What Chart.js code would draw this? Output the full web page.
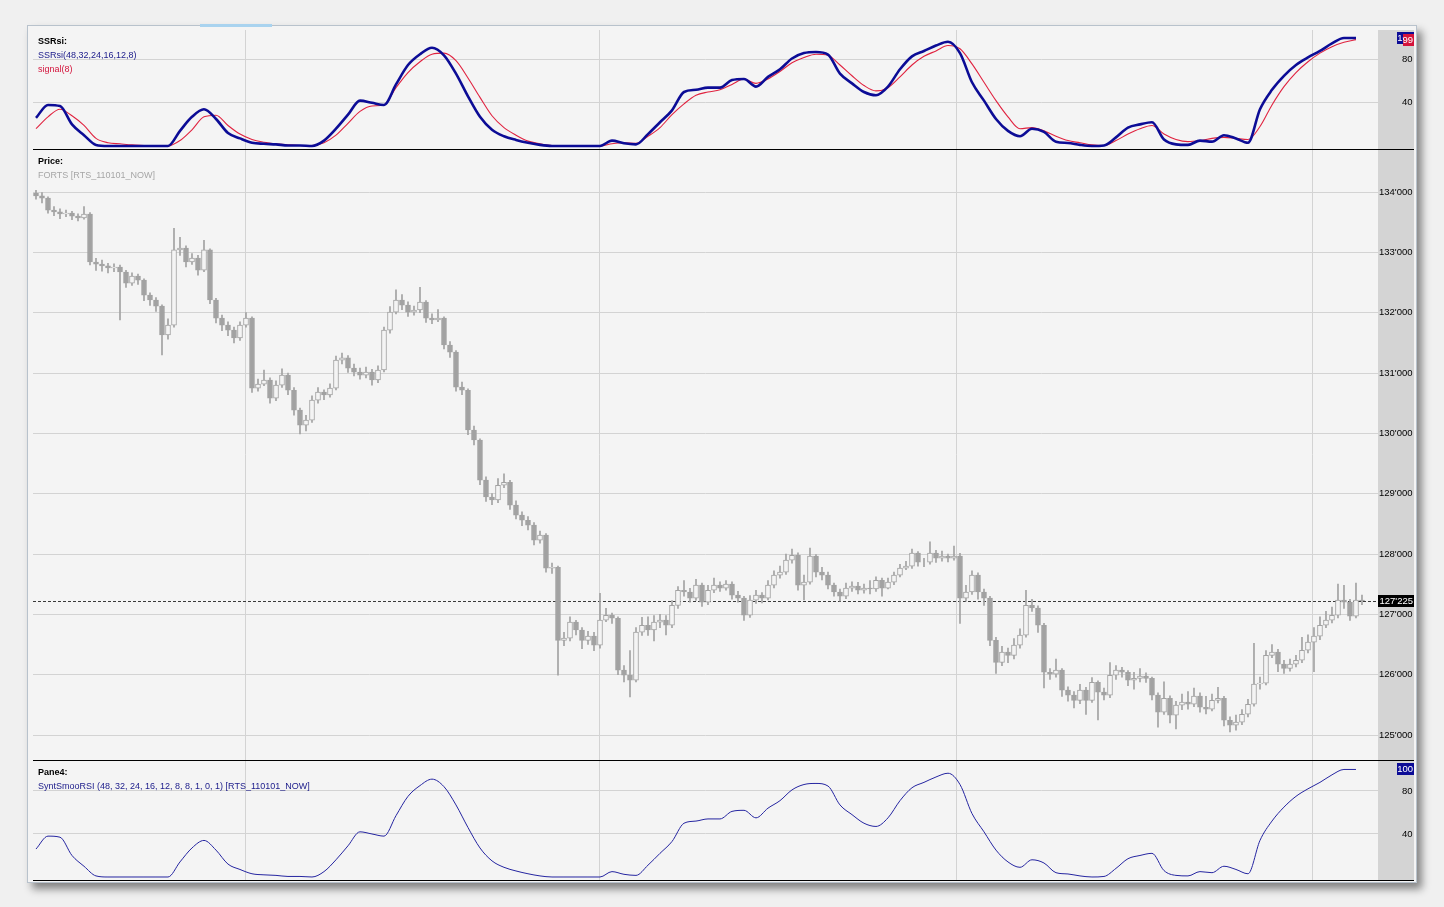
<!DOCTYPE html>
<html>
<head>
<meta charset="utf-8">
<script src="https://cdn.jsdelivr.net/npm/chart.js@4.4.0/dist/chart.umd.min.js"></script>
<style>
  html, body { margin: 0; padding: 0; width: 1444px; height: 907px; overflow: hidden; background: #f0f0f0; font-family: "Liberation Sans", Arial, sans-serif; }
  #win { position: absolute; left: 27px; top: 25px; width: 1388px; height: 856px; background: #f4f4f4; border: 1px solid #b8c2cc; box-shadow: 5px 6px 8px rgba(0,0,0,0.45); }
  #tab { position: absolute; left: 200px; top: 24px; width: 72px; height: 3px; background: #a9d3ef; }
  #band { position: absolute; left: 1378px; top: 30px; width: 36px; height: 850px; background: #d4d4d4; }
  canvas { position: absolute; z-index: 2; }
  .sep { position: absolute; left: 33px; width: 1381px; height: 1px; background: #000; z-index: 3; }
  .lbl { position: absolute; left: 38px; font-size: 9px; line-height: 11px; white-space: nowrap; z-index: 3; }
</style>
</head>
<body>
<div id="win"></div>
<div id="tab"></div>
<div id="band"></div>

<canvas id="cTop" width="1381" height="119" style="left:33px;top:30px;width:1381px;height:119px"></canvas>
<canvas id="cPrice" width="1381" height="611" style="left:33px;top:149px;width:1381px;height:611px"></canvas>
<canvas id="cLow" width="1381" height="120" style="left:33px;top:760px;width:1381px;height:120px"></canvas>

<div class="sep" style="top:149px"></div>
<div class="sep" style="top:760px"></div>
<div class="sep" style="top:880px"></div>

<div class="lbl" style="top:36px;font-weight:bold;color:#000">SSRsi:</div>
<div class="lbl" style="top:50px;color:#1a1a8a">SSRsi(48,32,24,16,12,8)</div>
<div class="lbl" style="top:64px;color:#d4143c">signal(8)</div>
<div class="lbl" style="top:156px;font-weight:bold;color:#000">Price:</div>
<div class="lbl" style="top:170px;color:#a6a6a6">FORTS [RTS_110101_NOW]</div>
<div class="lbl" style="top:767px;font-weight:bold;color:#000">Pane4:</div>
<div class="lbl" style="top:781px;color:#1a1a8a">SyntSmooRSI (48, 32, 24, 16, 12, 8, 8, 1, 0, 1) [RTS_110101_NOW]</div>

<script>
  'use strict';

  // candles, one per bar index
  var opens = [133980,133935,133900,133700,133670,133635,133650,133600,133570,133635,
    132840,132805,132775,132740,132755,132675,132490,132605,132540,132290,
    132210,132110,131630,131795,133040,133070,132840,132905,132705,133040,
    132210,131910,131795,131710,131580,131795,131910,130750,130815,130885,
    130585,130800,130965,130715,130385,130135,130220,130550,130685,130635,
    130750,131215,131250,131080,131015,130965,131015,130885,131050,131710,
    132010,132210,132125,132010,132045,132175,131910,131880,131910,131465,
    131345,130765,130715,130055,129890,129225,128945,128895,129140,129190,
    128810,128645,128560,128480,128230,128315,127765,127780,126570,126605,
    126870,126740,126570,126640,126490,126905,126985,126935,126075,125990,
    125910,126705,126820,126740,126870,126905,126820,127150,127400,127370,
    127270,127485,127200,127400,127485,127435,127500,127320,127270,126985,
    127235,127320,127270,127485,127650,127700,127900,127980,127485,127535,
    127965,127700,127650,127485,127370,127300,127435,127470,127400,127435,
    127420,127565,127435,127535,127650,127765,127800,128015,127865,127865,
    128015,127930,127965,127930,127965,127270,127370,127650,127370,127270,
    126570,126205,126375,126320,126490,126655,127150,127105,126820,126040,
    126010,126075,125745,125660,125575,125745,125575,125875,125710,125660,
    125990,126075,126040,125910,125940,125975,125940,125660,125380,125610,
    125330,125495,125545,125510,125645,125460,125430,125575,125610,125245,
    125165,125215,125345,125510,125845,125860,126320,126375,126175,126105,
    126175,126240,126405,126540,126640,126820,126905,126985,127235,127200,
    126970,127235];
  var highs = [134030,133990,133920,133760,133720,133700,133680,133640,133760,133660,
    132900,132870,132820,132810,132790,132700,132660,132640,132560,132330,
    132250,132130,131900,133400,133250,133110,132980,132950,133200,133060,
    132240,131960,131850,131760,131850,132000,131930,130900,131050,130920,
    130870,131070,131000,130760,130420,130300,130620,130760,130720,130820,
    131280,131330,131290,131150,131080,131100,131060,131120,131760,132100,
    132380,132300,132180,132110,132420,132200,131980,132050,131930,131520,
    131370,130850,130740,130120,129910,129280,129000,129250,129330,129220,
    128880,128700,128620,128520,128380,128340,127850,127800,126700,126960,
    126900,126780,126720,126700,127350,127100,127020,126960,126150,126400,
    126780,126950,126960,126980,127000,126980,127230,127460,127560,127430,
    127580,127520,127480,127600,127540,127560,127540,127380,127300,127310,
    127400,127360,127560,127720,127800,128000,128080,128020,127650,128100,
    127990,127780,127700,127520,127420,127520,127540,127530,127500,127560,
    127620,127600,127600,127700,127830,127880,128080,128040,127930,128200,
    128060,128050,128000,128130,128010,127480,127720,127690,127420,127300,
    126620,126470,126440,126600,126760,127400,127250,127140,126850,126100,
    126260,126100,125800,125720,125840,125790,125950,125900,125780,126200,
    126150,126120,126070,126040,126100,126030,125960,125700,125880,125650,
    125560,125680,125720,125780,125700,125640,125680,125790,125640,125300,
    125330,125420,125590,126520,125960,126400,126500,126420,126240,126260,
    126320,126620,126660,126780,126960,127050,127120,127500,127480,127250,
    127520,127320];
  var lows = [133880,133820,133650,133610,133560,133590,133540,133520,133550,132790,
    132700,132690,132660,132680,131880,132420,132450,132470,132200,132120,
    132020,131300,131560,131760,132950,132760,132800,132620,132680,132150,
    131830,131700,131620,131500,131540,131760,130680,130700,130790,130500,
    130540,130760,130640,130300,129990,130040,130180,130500,130560,130600,
    130720,131150,131010,130950,130900,130920,130800,130840,131020,131660,
    131980,132050,131940,131960,132000,131840,131820,131850,131400,131260,
    130700,130640,129980,129810,129150,128870,128820,128850,129100,128740,
    128580,128470,128400,128150,128180,127700,127680,125990,126480,126560,
    126660,126430,126500,126400,126440,126880,126850,126000,125880,125630,
    125880,126650,126650,126560,126780,126660,126780,127100,127300,127200,
    127230,127130,127160,127360,127380,127400,127250,127200,126900,126950,
    127180,127190,127240,127440,127600,127660,127850,127400,127240,127500,
    127620,127570,127420,127300,127220,127260,127380,127340,127350,127340,
    127380,127300,127420,127490,127620,127740,127760,127800,127790,127830,
    127860,127880,127870,127900,126850,127220,127330,127250,127150,126480,
    126020,126150,126200,126260,126440,126620,127050,126700,125780,125920,
    125960,125640,125560,125450,125520,125340,125540,125250,125580,125620,
    125920,125960,125820,125760,125880,125870,125580,125130,125340,125200,
    125100,125420,125430,125470,125380,125350,125400,125530,125150,125050,
    125080,125170,125300,125480,125760,125830,126280,126050,126020,126060,
    126130,126200,126360,126050,126580,126780,126860,126940,127100,126900,
    126940,127160];
  var closes = [133935,133900,133700,133670,133635,133650,133600,133570,133635,132840,
    132805,132775,132740,132755,132675,132490,132605,132540,132290,132210,
    132110,131630,131795,133040,133070,132840,132905,132705,133040,132210,
    131910,131795,131710,131580,131795,131910,130750,130815,130885,130585,
    130800,130965,130715,130385,130135,130220,130550,130685,130635,130750,
    131215,131250,131080,131015,130965,131015,130885,131050,131710,132010,
    132210,132125,132010,132045,132175,131910,131880,131910,131465,131345,
    130765,130715,130055,129890,129225,128945,128895,129140,129190,128810,
    128645,128560,128480,128230,128315,127765,127780,126570,126605,126870,
    126740,126570,126640,126490,126905,126985,126935,126075,125990,125910,
    126705,126820,126740,126870,126905,126820,127150,127400,127370,127270,
    127485,127200,127400,127485,127435,127500,127320,127270,126985,127235,
    127320,127270,127485,127650,127700,127900,127980,127485,127535,127965,
    127700,127650,127485,127370,127300,127435,127470,127400,127435,127420,
    127565,127435,127535,127650,127765,127800,128015,127865,127865,128015,
    127930,127965,127930,127965,127270,127370,127650,127370,127270,126570,
    126205,126375,126320,126490,126655,127150,127105,126820,126040,126010,
    126075,125745,125660,125575,125745,125575,125875,125710,125660,125990,
    126075,126040,125910,125940,125975,125940,125660,125380,125610,125330,
    125495,125545,125510,125645,125460,125430,125575,125610,125245,125165,
    125215,125345,125510,125845,125860,126320,126375,126175,126105,126175,
    126240,126405,126540,126640,126820,126905,126985,127235,127200,126970,
    127235,127225];

  // indicator samples, one every rsiStep bars
  var rsiStep = 2;
  var ssrsi = [26,38,37,20,10,1,0,0,0,0,0,0,
    14,27,34,25,12,7,3,2,1.5,0.5,0.5,0,
    5,16,29,42,40,38,57,75,85,91,84,67,
    46,27,15,9,5.6,3,1,0,0,0,0,0,
    5,2.5,1.5,11,22,33,50,52,54,54,61,62,
    55,64,71,81,86,87,84.6,67,58,50,47,55,
    71,83,88,93,96.5,86,59,42,25,14,9,16,
    13,4,2.8,1,0,0.5,8,17,20,22,6,1.5,
    1,5,4,10,7,3,34,52,65,75,82,88,
    95,100,100];
  var signal = [16,27,34,28,19,7,3,2,1,0.5,0,0,
    5,15,27,28.5,19,11,6,3.5,2,1,0.5,0.3,
    3,10,21,32,37,38,54,68,78,85,86,79,
    63,45,28,17,10,4.5,2,0.3,0,0,0,0,
    2,3,2.5,9,17,29,39,47,50,52,57,62,
    58,62,69,77,82,85,84,75,65,56,51,54,
    64,75,83,88,93,90,76,59,42,27,16,17,
    14,9,5,3,1,0.5,5,11,16,19,11,6,
    4,5,7,8,7,6,18,38,55,68,78,86,
    92,96,98.5];

  // tick values
  var priceTicks = [125000,126000,127000,128000,129000,130000,131000,132000,133000,134000];
  var rsiTicks = [40, 80];
  var dayBreaks = [35, 94, 153.5, 212.8];

  var xMin = -0.5, xMax = 223.67;
  var font = { family: 'Liberation Sans', size: 9.5 };

  function fmtPrice(v) {
    return String(Math.round(v)).replace(/\B(?=(\d{3})+(?!\d))/g, "'");
  }

  function toPoints(arr) {
    return arr.map(function(v, k) { return { x: k * rsiStep, y: v }; });
  }

  function noPad(s) {
    s.paddingTop = 0; s.paddingBottom = 0; s.paddingLeft = 0; s.paddingRight = 0;
  }

  function badge(chart, value, text, bg, x0) {
    var c = chart.ctx;
    var y = Math.round(chart.scales.y.getPixelForValue(value));
    c.save();
    c.fillStyle = bg;
    c.fillRect(x0, y - 6, chart.width - x0, 12);
    c.fillStyle = '#fff';
    c.font = '9.5px "Liberation Sans"';
    c.textAlign = 'right';
    c.textBaseline = 'middle';
    c.fillText(text, chart.width - 1, y + 0.5);
    c.restore();
  }

  function paneOptions(yMin, yMax, ticks, pad, fmt) {
    return {
      responsive: false,
      animation: false,
      events: [],
      layout: { padding: 0 },
      plugins: { legend: { display: false }, tooltip: { enabled: false } },
      scales: {
        x: {
          type: 'linear', min: xMin, max: xMax, offset: false,
          afterBuildTicks: function(s) { s.ticks = dayBreaks.map(function(v) { return { value: v }; }); },
          afterFit: function(s) { s.height = 0; noPad(s); },
          ticks: { display: false },
          border: { display: false },
          grid: { color: '#d3d3d3', drawTicks: false, offset: false }
        },
        y: {
          position: 'right', min: yMin, max: yMax,
          afterBuildTicks: function(s) { s.ticks = ticks.map(function(v) { return { value: v }; }); },
          afterFit: function(s) { s.width = 36; noPad(s); },
          border: { display: false },
          grid: { color: '#d3d3d3', drawTicks: false },
          ticks: { crossAlign: 'near', padding: pad, color: '#000', font: font, callback: fmt }
        }
      }
    };
  }

  // SSRsi pane
  new Chart(document.getElementById('cTop'), {
    type: 'line',
    data: {
      datasets: [{
        data: toPoints(ssrsi), borderColor: '#0c0c96', borderWidth: 2.6,
        pointRadius: 0, cubicInterpolationMode: 'monotone'
      }, {
        data: toPoints(signal), borderColor: '#e0223f', borderWidth: 1.1,
        pointRadius: 0, cubicInterpolationMode: 'monotone'
      }]
    },
    options: paneOptions(-2.8, 107.4, rsiTicks, 24, function(v) { return v; }),
    plugins: [{
      id: 'lastValues',
      afterDraw: function(chart) {
        badge(chart, ssrsi[ssrsi.length - 1], String(Math.round(ssrsi[ssrsi.length - 1])), '#0c0c96', 1364);
        badge(chart, signal[signal.length - 1], String(Math.round(signal[signal.length - 1])), '#d4143c', 1370);
      }
    }]
  });

  // price pane
  var bodies = [], wicks = [];
  for (var i = 0; i < closes.length; i++) {
    bodies.push({ x: i, y: [opens[i], closes[i]] });
    wicks.push({ x: i, y: [lows[i], highs[i]] });
  }
  var lastPrice = closes[closes.length - 1];

  new Chart(document.getElementById('cPrice'), {
    type: 'bar',
    data: {
      datasets: [{
        data: bodies, order: 0, grouped: false, barThickness: 5,
        borderWidth: 1, borderSkipped: false, borderColor: '#a2a2a2',
        backgroundColor: function(ctx) {
          var k = ctx.dataIndex;
          return closes[k] >= opens[k] ? '#f4f4f4' : '#a2a2a2';
        }
      }, {
        data: wicks, order: 1, grouped: false, barThickness: 1,
        borderWidth: 0, backgroundColor: '#a2a2a2'
      }]
    },
    options: paneOptions(124586, 134713, priceTicks, 1, fmtPrice),
    plugins: [{
      id: 'lastPrice',
      beforeDatasetsDraw: function(chart) {
        var c = chart.ctx, a = chart.chartArea;
        var y = Math.round(chart.scales.y.getPixelForValue(lastPrice)) + 0.5;
        c.save();
        c.strokeStyle = '#3a3a3a';
        c.lineWidth = 1;
        c.setLineDash([3, 2]);
        c.beginPath();
        c.moveTo(a.left, y);
        c.lineTo(a.right, y);
        c.stroke();
        c.restore();
      },
      afterDraw: function(chart) {
        badge(chart, lastPrice, fmtPrice(lastPrice), '#000', chart.chartArea.right);
      }
    }]
  });

  // SyntSmooRSI pane
  new Chart(document.getElementById('cLow'), {
    type: 'line',
    data: {
      datasets: [{
        data: toPoints(ssrsi), borderColor: '#2424a0', borderWidth: 1,
        pointRadius: 0, cubicInterpolationMode: 'monotone'
      }]
    },
    options: paneOptions(-2.8, 108.8, rsiTicks, 24, function(v) { return v; }),
    plugins: [{
      id: 'lastValue',
      afterDraw: function(chart) {
        badge(chart, ssrsi[ssrsi.length - 1], String(Math.round(ssrsi[ssrsi.length - 1])), '#0c0c96', 1364);
      }
    }]
  });
</script>
</body>
</html>
